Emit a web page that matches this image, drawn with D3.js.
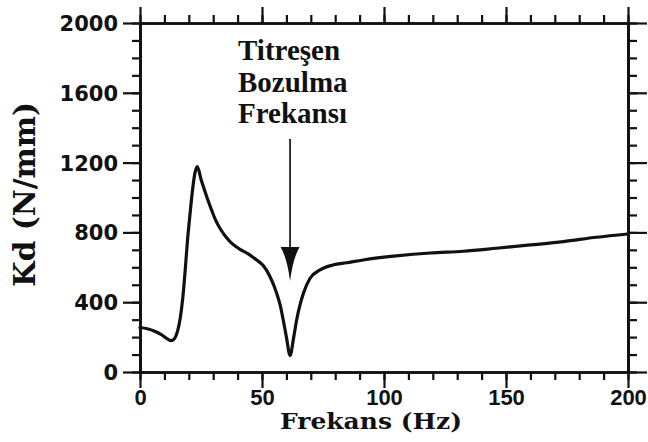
<!DOCTYPE html>
<html><head><meta charset="utf-8">
<script src="https://cdn.jsdelivr.net/npm/d3@7"></script>
<style>body{margin:0;background:#fff} svg{display:block}</style>
</head><body>
<svg id="c" width="648" height="442"></svg>
<script>
// ---- data ----
const freq = [0, 3, 6, 9, 11, 12.6, 13.5, 14.5, 15.5, 16.5, 17.5, 18.5, 19.5, 20.5, 21.5, 22.5, 23.5, 25, 26.5, 28, 29.5, 31, 33, 35, 37, 39, 41, 44, 47.8, 50.5, 53.3, 56, 57.5, 58.7, 60, 61.5, 63, 64.2, 65.5, 67, 69.7, 73.8, 79, 84.7, 91.5, 105, 119, 132.5, 146, 160, 173.5, 187, 200];
const kd   = [255, 248, 234, 212, 192, 180, 183, 200, 240, 310, 420, 580, 760, 905, 1040, 1140, 1177, 1105, 1040, 978, 922, 870, 818, 778, 746, 722, 703, 680, 642, 610, 546, 452, 380, 298, 200, 95, 200, 298, 380, 452, 537, 585, 613, 626, 642, 665, 682, 692, 709, 728, 747, 772, 791];
const xMajorTicks = [0, 50, 100, 150, 200];
const xMinorTicks = d3.range(0, 201, 10);
const yMajorTicks = [0, 400, 800, 1200, 1600, 2000];
const yMinorTicks = d3.range(0, 2001, 100);
const xTitle = "Frekans (Hz)";
const yTitle = "Kd (N/mm)";
const noteLines = ["Titreşen", "Bozulma", "Frekansı"];
const noteFreq = 61.5;

const svg = d3.select("#c");
const ink = "#111";
const x = d3.scaleLinear().domain([0, 200]).range([140, 628]);
const y = d3.scaleLinear().domain([0, 2000]).range([372, 23]);

function styleAxis(g, w) {
  g.select(".domain").attr("stroke", ink).attr("stroke-width", w);
  g.selectAll(".tick line").attr("stroke", ink).attr("stroke-width", 2.2);
}

// bottom axis
svg.append("g").attr("transform", `translate(0,${y(0)})`)
  .call(d3.axisBottom(x).tickValues(xMinorTicks).tickSize(8).tickSizeOuter(0).tickFormat(""))
  .call(g => styleAxis(g, 2.6));
const gb = svg.append("g").attr("transform", `translate(0,${y(0)})`)
  .call(d3.axisBottom(x).tickValues(xMajorTicks).tickSize(16).tickSizeOuter(0).tickFormat(d3.format("d")))
  .call(g => styleAxis(g, 2.6));
gb.selectAll(".tick text").attr("y", 33).attr("dy", 0)
  .attr("font-family", "'Liberation Sans', Arial, sans-serif").attr("font-weight", "bold")
  .attr("font-size", 22).attr("fill", ink);

// top axis
svg.append("g").attr("transform", `translate(0,${y(2000)})`)
  .call(d3.axisTop(x).tickValues(xMinorTicks).tickSize(8).tickSizeOuter(0).tickFormat(""))
  .call(g => styleAxis(g, 2.6));
svg.append("g").attr("transform", `translate(0,${y(2000)})`)
  .call(d3.axisTop(x).tickValues(xMajorTicks).tickSize(16).tickSizeOuter(0).tickFormat(""))
  .call(g => styleAxis(g, 2.6));

// left axis
svg.append("g").attr("transform", `translate(${x(0)},0)`)
  .call(d3.axisLeft(y).tickValues(yMinorTicks).tickSize(8).tickSizeOuter(0).tickFormat(""))
  .call(g => styleAxis(g, 2.8));
const gl = svg.append("g").attr("transform", `translate(${x(0)},0)`)
  .call(d3.axisLeft(y).tickValues(yMajorTicks).tickSize(17).tickSizeOuter(0).tickFormat(d3.format("d")))
  .call(g => styleAxis(g, 2.8));
gl.selectAll(".tick text").attr("x", -22).attr("dy", "0.36em")
  .attr("font-family", "'DejaVu Sans', sans-serif").attr("font-weight", "bold")
  .attr("font-size", 21).attr("fill", ink);

// right axis
svg.append("g").attr("transform", `translate(${x(200)},0)`)
  .call(d3.axisRight(y).tickValues(yMinorTicks).tickSize(9).tickSizeOuter(0).tickFormat(""))
  .call(g => styleAxis(g, 2.8));
svg.append("g").attr("transform", `translate(${x(200)},0)`)
  .call(d3.axisRight(y).tickValues(yMajorTicks).tickSize(19).tickSizeOuter(0).tickFormat(""))
  .call(g => styleAxis(g, 2.8));

// curve
const pts = freq.map((f, i) => [f, kd[i]]);
svg.append("path").datum(pts)
  .attr("fill", "none").attr("stroke", ink).attr("stroke-width", 3.2)
  .attr("stroke-linejoin", "round").attr("stroke-linecap", "round")
  .attr("d", d3.line().x(d => x(d[0])).y(d => y(d[1])).curve(d3.curveMonotoneX));

// annotation
const ax = x(noteFreq);
svg.append("line").attr("x1", ax).attr("x2", ax).attr("y1", 139).attr("y2", 252)
  .attr("stroke", ink).attr("stroke-width", 1.7);
svg.append("path")
  .attr("d", `M${ax - 9.5},247 Q${ax - 3},258 ${ax},281 Q${ax + 3},258 ${ax + 9.5},247 Z`)
  .attr("fill", ink);
svg.append("g").selectAll("text").data(noteLines).join("text")
  .attr("x", 238).attr("y", (d, i) => 60 + i * 31.7)
  .attr("font-family", "'Liberation Serif', 'Times New Roman', serif").attr("font-weight", "bold")
  .attr("font-size", 29).attr("fill", ink).text(d => d);

// axis titles
svg.append("text").attr("x", 280).attr("y", 429)
  .attr("textLength", 182).attr("lengthAdjust", "spacingAndGlyphs")
  .attr("font-family", "'DejaVu Serif', serif").attr("font-weight", "bold")
  .attr("font-size", 22).attr("fill", ink).text(xTitle);
svg.append("text").attr("transform", "translate(35,287) rotate(-90)")
  .attr("textLength", 185).attr("lengthAdjust", "spacingAndGlyphs")
  .attr("font-family", "'DejaVu Serif', serif").attr("font-weight", "bold")
  .attr("font-size", 29).attr("fill", ink).text(yTitle);
</script></body></html>
